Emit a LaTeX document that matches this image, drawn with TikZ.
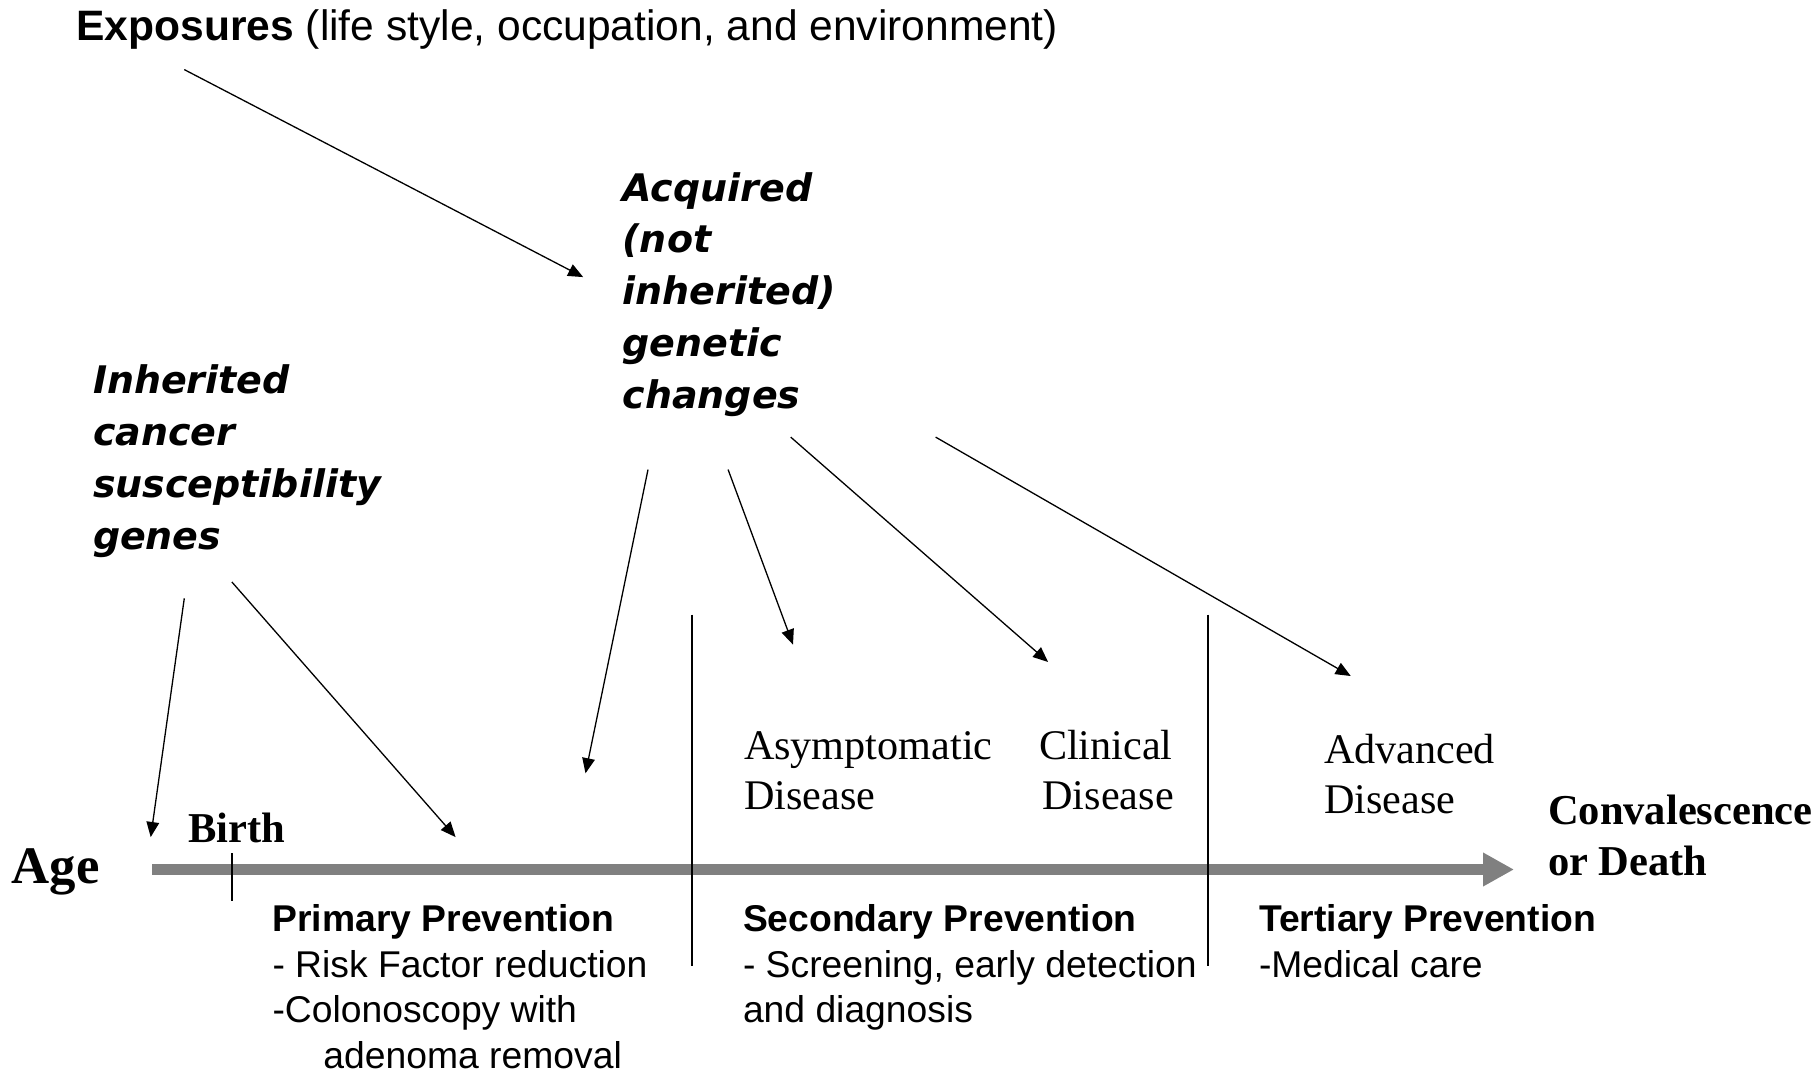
\documentclass[tikz,border=0pt]{standalone}
\usepackage{fontspec}
\setmainfont{Liberation Sans}
\newfontfamily\tnr{Liberation Serif}
\newfontfamily\vbi{DejaVu Sans Bold Oblique}
\usetikzlibrary{arrows.meta}
\definecolor{axisgray}{RGB}{128,128,128}
\begin{document}
\begin{tikzpicture}[x=0.01cm,y=-0.01cm,
  txt/.style={inner sep=0pt,outer sep=0pt,anchor=base west,align=left},
  expo/.style={txt,font=\fontsize{12.1}{14.5}\selectfont},
  gene/.style={txt,font=\vbi\fontsize{10.8}{14.7}\selectfont},
  stage/.style={txt,font=\tnr\fontsize{12}{14.2}\selectfont},
  tbold/.style={txt,font=\tnr\bfseries\fontsize{12.1}{14.5}\selectfont},
  prev/.style={txt,font=\fontsize{10.6}{12.92}\selectfont},
  conn/.style={draw=black,line width=0.37pt,-{Triangle[length=4.3pt,width=3.6pt]}},
  rule/.style={draw=black,line width=0.37pt},
  axis/.style={draw=axisgray,line width=2.9pt,-{Triangle[length=8.8pt,width=9pt]}}]
\useasboundingbox (0,0) rectangle (1818,1070);

% texts (multi-line nodes are placed by the baseline of their last line)
\node[expo] (expo) at (76.5,40.6) {\textbf{Exposures} (life style, occupation, and environment)};
\node[gene] (inh) at (93,549) {Inherited\\cancer\\susceptibility\\genes};
\node[gene] (acq) at (622.6,408) {Acquired\\(not\\inherited)\\genetic\\changes};
\node[txt,font=\tnr\bfseries\fontsize{15}{18}\selectfont] (age) at (11.6,883) {Age};
\node[tbold] (birth) at (188,842) {Birth};
\node[stage] (asym) at (744,809) {Asymptomatic\\Disease};
\node[stage] (clin) at (1039,809) {Clinical\\\hspace*{1pt}Disease};
\node[stage] (adv) at (1324,813) {Advanced\\Disease};
\node[tbold] (conv) at (1548,875) {Convalescence\\or Death};
\node[prev] (prim) at (272.5,1068.2) {\textbf{Primary Prevention}\\- Risk Factor reduction\\-Colonoscopy with\\\hspace*{14.5pt}adenoma removal};
\node[prev] (sec) at (743,1022.8) {\textbf{Secondary Prevention}\\- Screening, early detection\\and diagnosis};
\node[prev] (ter) at (1259,977.4) {\textbf{Tertiary Prevention}\\-Medical care};

% axis
\coordinate (axS) at (152,869.5);
\coordinate (axE) at (1514,869.5);
\draw[axis] (axS) -- (axE);
\coordinate (b1) at (232,853); \coordinate (b2) at (232,901);
\draw[rule] (b1) -- (b2);
\coordinate (v1a) at (692,614.5); \coordinate (v1b) at (692,966);
\draw[rule] (v1a) -- (v1b);
\coordinate (v2a) at (1208,614.5); \coordinate (v2b) at (1208,966);
\draw[rule] (v2a) -- (v2b);

% arrows
\coordinate (e1) at (184.3,69.6);   \coordinate (e2) at (583.2,277.1);
\coordinate (i1) at (184.3,598.3);  \coordinate (i2) at (150.7,837.1);
\coordinate (i3) at (231.9,582);    \coordinate (i4) at (455.6,837.1);
\coordinate (a1) at (648,469.6);    \coordinate (a2) at (585.5,773.3);
\coordinate (a3) at (728.1,469.6);  \coordinate (a4) at (793,644.6);
\coordinate (a5) at (790.7,437.1);  \coordinate (a6) at (1048.1,662);
\coordinate (a7) at (935.6,437.1);  \coordinate (a8) at (1350.7,676);
\draw[conn] (e1) -- (e2);
\draw[conn] (i1) -- (i2);
\draw[conn] (i3) -- (i4);
\draw[conn] (a1) -- (a2);
\draw[conn] (a3) -- (a4);
\draw[conn] (a5) -- (a6);
\draw[conn] (a7) -- (a8);
\end{tikzpicture}
\end{document}
